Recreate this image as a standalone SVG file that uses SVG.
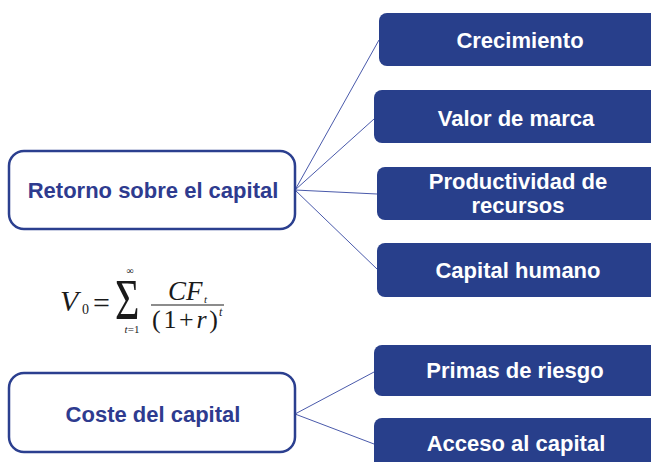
<svg xmlns="http://www.w3.org/2000/svg" width="651" height="462" viewBox="0 0 651 462">
<style>
.src rect{fill:#fff;stroke:#2b3f8f;stroke-width:2.5}
.src text{font-family:"Liberation Sans",Arial,sans-serif;font-weight:bold;font-size:22px;fill:#2e3b8f;text-anchor:middle}
.leaf rect{fill:#283f8b}
.leaf text{font-family:"Liberation Sans",Arial,sans-serif;font-weight:bold;font-size:22px;fill:#fff;text-anchor:middle}
.conn line{stroke:#4a5aab;stroke-width:1}
.f{font-family:"Liberation Serif","Times New Roman",serif;fill:#1a1a1a}
.i{font-style:italic}
</style>
<rect width="651" height="462" fill="#fff"/>
<g id="connectors" class="conn">
<line x1="295" y1="190" x2="379" y2="40"/>
<line x1="295" y1="190" x2="374" y2="119"/>
<line x1="295" y1="190" x2="377" y2="194"/>
<line x1="295" y1="190" x2="377" y2="269"/>
<line x1="295" y1="414" x2="374" y2="372"/>
<line x1="295" y1="414" x2="374" y2="444"/>
</g>
<g id="retorno" class="src">
<rect x="9" y="151" width="286" height="78" rx="15"/>
<text x="153" y="198">Retorno sobre el capital</text>
</g>
<g id="coste" class="src">
<rect x="9" y="373" width="286" height="79" rx="15"/>
<text x="153" y="422">Coste del capital</text>
</g>
<g id="crecimiento" class="leaf">
<rect x="379" y="13" width="290" height="53" rx="8"/>
<text x="520" y="48">Crecimiento</text>
</g>
<g id="valor" class="leaf">
<rect x="374" y="90" width="295" height="53" rx="8"/>
<text x="516" y="126">Valor de marca</text>
</g>
<g id="productividad" class="leaf">
<rect x="377" y="167" width="292" height="53" rx="8"/>
<text x="518" y="189">Productividad de</text>
<text x="518" y="213">recursos</text>
</g>
<g id="humano" class="leaf">
<rect x="377" y="243" width="292" height="54" rx="8"/>
<text x="518" y="278">Capital humano</text>
</g>
<g id="primas" class="leaf">
<rect x="374" y="345" width="295" height="51" rx="8"/>
<text x="515" y="378">Primas de riesgo</text>
</g>
<g id="acceso" class="leaf">
<rect x="374" y="418" width="295" height="60" rx="8"/>
<text x="516" y="451">Acceso al capital</text>
</g>
<g id="formula" class="f">
<text class="i" x="60" y="311" font-size="30">V</text>
<text x="82" y="314" font-size="14">0</text>
<text x="93" y="313" font-size="30">=</text>
<text transform="translate(115,319) scale(1,1.35)" font-size="42">Σ</text>
<text x="130" y="274" font-size="10" text-anchor="middle">∞</text>
<text x="132" y="333" font-size="11" text-anchor="middle"><tspan class="i">t</tspan>=1</text>
<text class="i" x="168" y="300" font-size="27">CF</text>
<text class="i" x="204" y="303" font-size="11">t</text>
<line x1="151" y1="305" x2="224" y2="305" stroke="#1a1a1a" stroke-width="1.2"/>
<text x="152" y="328" font-size="26" textLength="66" lengthAdjust="spacing">(1+<tspan class="i">r</tspan>)</text>
<text class="i" x="219" y="316" font-size="12">t</text>
</g>
</svg>
